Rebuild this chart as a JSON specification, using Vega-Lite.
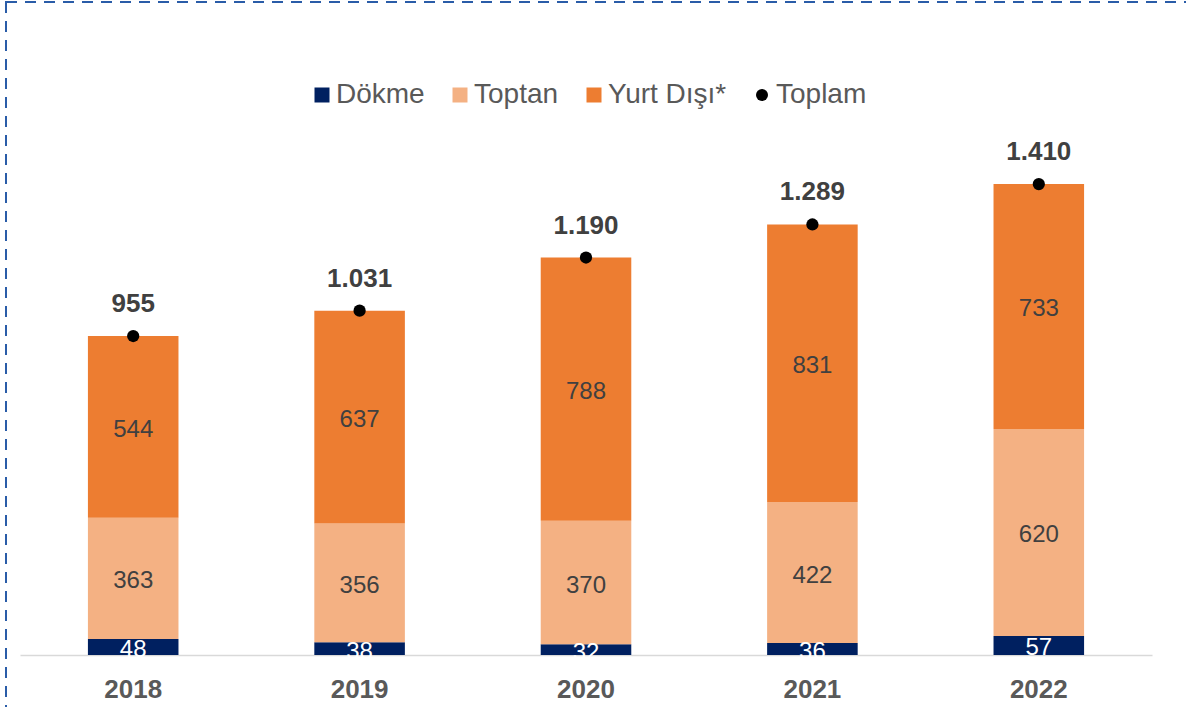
{
  "$schema": "https://vega.github.io/schema/vega-lite/v6.json",
  "width": 1186,
  "height": 710,
  "autosize": {"type": "none"},
  "padding": {"left": 6, "top": 2, "right": 0, "bottom": 0},
  "background": "white",
  "config": {
    "font": "Liberation Sans",
    "view": {"stroke": "#2A5CA8", "strokeWidth": 2, "strokeDash": [11, 8]},
    "locale": {"number": {"decimal": ",", "thousands": ".", "grouping": [3], "currency": ["", " ₺"]}}
  },
  "datasets": {
    "seg": [
      {"yil": "2018", "seri": "Dökme", "deger": 48},
      {"yil": "2018", "seri": "Toptan", "deger": 363},
      {"yil": "2018", "seri": "Yurt Dışı*", "deger": 544},
      {"yil": "2019", "seri": "Dökme", "deger": 38},
      {"yil": "2019", "seri": "Toptan", "deger": 356},
      {"yil": "2019", "seri": "Yurt Dışı*", "deger": 637},
      {"yil": "2020", "seri": "Dökme", "deger": 32},
      {"yil": "2020", "seri": "Toptan", "deger": 370},
      {"yil": "2020", "seri": "Yurt Dışı*", "deger": 788},
      {"yil": "2021", "seri": "Dökme", "deger": 36},
      {"yil": "2021", "seri": "Toptan", "deger": 422},
      {"yil": "2021", "seri": "Yurt Dışı*", "deger": 831},
      {"yil": "2022", "seri": "Dökme", "deger": 57},
      {"yil": "2022", "seri": "Toptan", "deger": 620},
      {"yil": "2022", "seri": "Yurt Dışı*", "deger": 733}
    ],
    "tot": [
      {"yil": "2018", "seri": "Toplam", "toplam": 955},
      {"yil": "2019", "seri": "Toplam", "toplam": 1031},
      {"yil": "2020", "seri": "Toplam", "toplam": 1190},
      {"yil": "2021", "seri": "Toplam", "toplam": 1289},
      {"yil": "2022", "seri": "Toplam", "toplam": 1410}
    ]
  },
  "layer": [
    {
      "data": {"name": "seg"},
      "transform": [
        {"stack": "deger", "groupby": ["yil"], "sort": [{"field": "seri", "order": "ascending"}], "as": ["v0", "v1"]},
        {"calculate": "(datum.v0 + datum.v1) / 2", "as": "mid"}
      ],
      "layer": [
        {
          "mark": {"type": "bar"},
          "encoding": {
            "x": {
              "field": "yil", "type": "nominal",
              "scale": {"range": [14, 1146], "paddingInner": 0.6, "paddingOuter": 0.3},
              "axis": {
                "title": null, "orient": "bottom", "offset": -57,
                "ticks": false, "tickSize": 0,
                "domainColor": "#D9D9D9", "domainWidth": 1.5,
                "labelFont": "Liberation Sans", "labelFontSize": 26, "labelFontWeight": "bold",
                "labelColor": "#595959", "labelPadding": 21, "labelAngle": 0
              }
            },
            "y": {
              "field": "v0", "type": "quantitative",
              "scale": {"domain": [0, 1600], "range": [653, 118.6], "nice": false, "zero": false},
              "axis": null
            },
            "y2": {"field": "v1"},
            "color": {
              "field": "seri", "type": "nominal",
              "scale": {
                "domain": ["Dökme", "Toptan", "Yurt Dışı*", "Toplam"],
                "range": ["#002060", "#F4B183", "#ED7D31", "#000000"]
              },
              "legend": {
                "title": null,
                "orient": "none", "direction": "horizontal",
                "legendX": 302, "legendY": 79,
                "padding": 0,
                "symbolType": "square", "symbolSize": 225,
                "symbolStrokeWidth": 0,
                "labelFont": "Liberation Sans", "labelFontSize": 28, "labelColor": "#595959",
                "labelOffset": 0, "columnPadding": 21,
                "labelLimit": 300,
                "encode": {
                  "symbols": {
                    "update": {
                      "shape": {"signal": "datum.value === 'Toplam' ? 'circle' : 'square'"},
                      "size": {"signal": "datum.value === 'Toplam' ? 144 : 225"}
                    }
                  }
                }
              }
            }
          }
        },
        {
          "mark": {"type": "text", "font": "Liberation Sans", "fontSize": 24, "baseline": "middle", "align": "center", "dy": 3},
          "encoding": {
            "x": {"field": "yil", "type": "nominal"},
            "y": {"field": "mid", "type": "quantitative", "scale": {"domain": [0, 1600], "range": [653, 118.6], "nice": false, "zero": false}},
            "text": {"field": "deger", "type": "quantitative", "format": ",d"},
            "color": {"condition": {"test": "datum.seri === 'Dökme'", "value": "#FFFFFF"}, "value": "#404040"}
          }
        }
      ]
    },
    {
      "data": {"name": "tot"},
      "layer": [
        {
          "mark": {"type": "point", "shape": "circle", "filled": true, "size": 150, "color": "#000000", "opacity": 1},
          "encoding": {
            "x": {"field": "yil", "type": "nominal"},
            "y": {"field": "toplam", "type": "quantitative", "scale": {"domain": [0, 1600], "range": [653, 118.6], "nice": false, "zero": false}}
          }
        },
        {
          "mark": {"type": "text", "font": "Liberation Sans", "fontSize": 26, "fontWeight": "bold", "color": "#404040", "baseline": "alphabetic", "align": "center", "dy": -24},
          "encoding": {
            "x": {"field": "yil", "type": "nominal"},
            "y": {"field": "toplam", "type": "quantitative", "scale": {"domain": [0, 1600], "range": [653, 118.6], "nice": false, "zero": false}},
            "text": {"field": "toplam", "type": "quantitative", "format": ",d"}
          }
        }
      ]
    }
  ]
}
